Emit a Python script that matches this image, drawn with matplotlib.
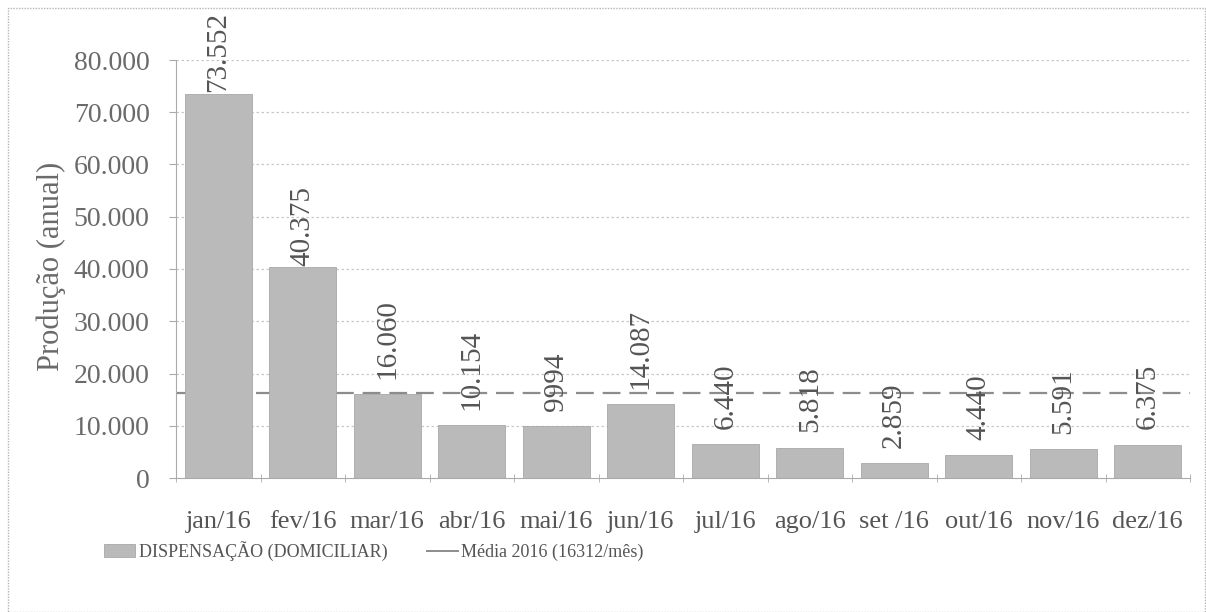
import matplotlib
matplotlib.use("Agg")
import matplotlib.pyplot as plt
from matplotlib.patches import Rectangle, Patch
from matplotlib.lines import Line2D
import numpy as np

categories = ["jan/16", "fev/16", "mar/16", "abr/16", "mai/16", "jun/16",
              "jul/16", "ago/16", "set /16", "out/16", "nov/16", "dez/16"]
values = [73552, 40375, 16060, 10154, 9994, 14087, 6440, 5818, 2859, 4440, 5591, 6375]
value_labels = ["73.552", "40.375", "16.060", "10.154", "9994", "14.087",
                "6.440", "5.818", "2.859", "4.440", "5.591", "6.375"]
mean_value = 16312
yticks = [0, 10000, 20000, 30000, 40000, 50000, 60000, 70000, 80000]
ytick_labels = ["0", "10.000", "20.000", "30.000", "40.000", "50.000", "60.000", "70.000", "80.000"]
series_label = "DISPENSAÇÃO (DOMICILIAR)"
mean_label = "Média 2016 (16312/mês)"

plt.rcParams['font.family'] = ['Liberation Serif', 'DejaVu Serif']

fig = plt.figure(figsize=(12.06, 6.12), dpi=100)
ax = fig.add_axes([176/1206, 1-478/612, (1190-176)/1206, (478-60)/612])

x = np.arange(len(categories))
bar_color = "#bababa"
ax.set_xlim(-0.5, len(categories) - 0.5)
ax.set_ylim(0, 80000)

for yt in yticks[1:]:
    ax.axhline(yt, color="#c8c8c8", lw=0.9, ls=(0, (2, 2)), zorder=0)

ax.axhline(mean_value, color="#8c8c8c", lw=1.6, ls=(0, (8, 4)), zorder=1)

bars = ax.bar(x, values, width=0.79, color=bar_color, edgecolor="#a8a8a8",
              linewidth=0.6, zorder=2)

for xi, v, lab in zip(x, values, value_labels):
    off = 1 if v > 35000 else 11
    ax.annotate(lab, (xi, v), xytext=(0, off), textcoords="offset points",
                rotation=90, ha="center", va="bottom", fontsize=21,
                color="#555555", annotation_clip=False, zorder=3)

ax.set_yticks(yticks)
ax.set_yticklabels(ytick_labels, fontsize=20, color="#6a6a6a")
ax.set_xticks(x)
ax.set_xticklabels(categories, fontsize=19, color="#555555")
ax.tick_params(axis="x", length=0, pad=24)
ax.tick_params(axis="y", length=5, color="#aaaaaa", pad=14)
ax.set_xticks(np.arange(-0.5, len(categories), 1), minor=True)
ax.tick_params(axis="x", which="minor", length=6, color="#aaaaaa", direction="inout")

for s in ["top", "right"]:
    ax.spines[s].set_visible(False)
ax.spines["left"].set_color("#aaaaaa")
ax.spines["left"].set_linestyle((0, (1, 1)))
ax.spines["bottom"].set_color("#aaaaaa")
ax.spines["bottom"].set_linestyle((0, (1, 1)))

ax.set_ylabel("Produção (anual)", fontsize=22, color="#6a6a6a")
ax.yaxis.set_label_coords(-(176 - 66) / (1190 - 176), 0.5 + (476 - 264 - 209) / 418)

# outer border
fig.patches.append(Rectangle((8/1206, 0.0), (1206-9)/1206, 1-8/612,
                             transform=fig.transFigure, fill=False,
                             edgecolor="#b5b5b5", lw=1.0, ls=(0, (1, 1))))

handles = [Patch(facecolor=bar_color, edgecolor="#a8a8a8", lw=0.6),
           Line2D([0], [0], color="#8c8c8c", lw=1.4)]
fig.legend(handles, [series_label, mean_label], loc="center left",
           bbox_to_anchor=(88/1206, 1-551/612), ncol=2, frameon=False,
           prop={"family": ["Liberation Serif", "DejaVu Serif"], "size": 13},
           handlelength=1.7, handletextpad=0.2, columnspacing=2.2,
           labelcolor="#555555")

fig.savefig("out.png", dpi=100)
